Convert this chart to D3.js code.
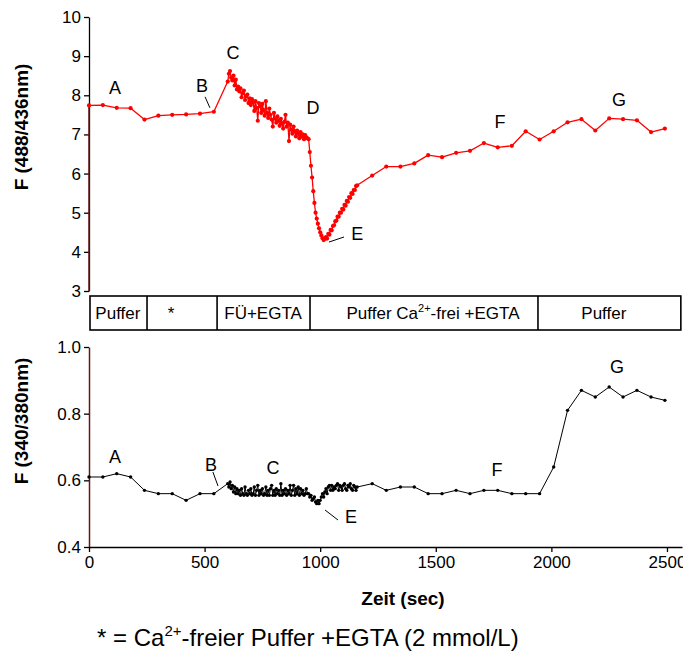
<!DOCTYPE html>
<html>
<head>
<meta charset="utf-8">
<script src="https://cdn.jsdelivr.net/npm/d3@7"></script>
<style>
  body { margin: 0; background: #fff; }
  svg { display: block; }
  text { font-family: "Liberation Sans", Arial, Helvetica, sans-serif; fill: #000; }
</style>
</head>
<body>
<svg id="chart" width="683" height="657"></svg>
<script>
// ---- Data -------------------------------------------------------------
// Slow sampling before and after the fast recording (time in s)
const timesPre  = [0, 60, 120, 180, 240, 300, 360, 420, 480, 540];
const timesPost = [1225, 1286, 1347, 1407, 1467, 1527, 1588, 1648, 1708, 1768, 1829,
                   1889, 1949, 2010, 2070, 2130, 2190, 2250, 2310, 2370, 2431, 2491];

// Fast recording: one sample every 5 s from 600 s to 1160 s
const fastStart = 600;
const fastStep = 5;

// F (488/436 nm)
const ratio488Pre  = [7.74, 7.75, 7.68, 7.67, 7.38, 7.48, 7.50, 7.51, 7.53, 7.58];
const ratio488Fast = [
  8.35, 8.55, 8.62, 8.45, 8.38, 8.50, 8.25, 8.40, 8.15, 8.22,
  8.10, 8.18, 7.95, 8.05, 8.12, 7.88, 7.98, 8.02, 7.80, 7.92,
  7.75, 7.90, 7.82, 7.60, 7.85, 7.68, 7.35, 7.80, 7.72, 7.55,
  7.78, 7.62, 7.48, 7.85, 7.55, 7.42, 7.66, 7.50, 7.38, 7.20,
  7.55, 7.40, 7.30, 7.46, 7.35, 7.22, 7.40, 7.28, 7.15, 7.32,
  7.50, 7.20, 7.30, 6.83, 7.25, 7.12, 7.02, 7.20, 7.08, 6.95,
  7.10, 7.02, 6.90, 7.06, 6.95, 7.00, 6.88, 6.98, 6.92, 6.90,
  6.88, 6.55, 6.20, 5.90, 5.55, 5.25, 5.00, 4.85, 4.72, 4.60,
  4.50, 4.42, 4.35, 4.30, 4.33, 4.38, 4.34, 4.46, 4.44, 4.56,
  4.55, 4.66, 4.68, 4.78, 4.80, 4.90, 4.90, 5.00, 5.00, 5.10,
  5.08, 5.20, 5.18, 5.30, 5.28, 5.40, 5.38, 5.50, 5.48, 5.58,
  5.58, 5.68, 5.70
];
const ratio488Post = [5.95, 6.18, 6.18, 6.26, 6.47, 6.42, 6.53, 6.58, 6.78, 6.67, 6.71,
                      7.08, 6.87, 7.08, 7.31, 7.39, 7.10, 7.41, 7.39, 7.36, 7.06, 7.15];

// F (340/380 nm)
const ratio340Pre  = [0.61, 0.61, 0.62, 0.61, 0.57, 0.56, 0.56, 0.54, 0.56, 0.56];
const ratio340Fast = [
  0.59, 0.58, 0.595, 0.575, 0.585, 0.565, 0.58, 0.56, 0.575, 0.56,
  0.57, 0.555, 0.575, 0.56, 0.555, 0.58, 0.56, 0.555, 0.57, 0.56,
  0.575, 0.555, 0.56, 0.58, 0.555, 0.57, 0.585, 0.555, 0.57, 0.56,
  0.575, 0.555, 0.56, 0.58, 0.555, 0.57, 0.555, 0.575, 0.585, 0.555,
  0.57, 0.555, 0.575, 0.56, 0.57, 0.555, 0.59, 0.555, 0.57, 0.56,
  0.575, 0.555, 0.57, 0.56, 0.585, 0.555, 0.57, 0.585, 0.555, 0.575,
  0.56, 0.58, 0.555, 0.575, 0.56, 0.57, 0.555, 0.56, 0.575, 0.56,
  0.56, 0.55, 0.555, 0.54, 0.545, 0.55, 0.535, 0.53, 0.54, 0.53,
  0.54, 0.55, 0.56, 0.55, 0.565, 0.575, 0.56, 0.58, 0.585, 0.57,
  0.585, 0.57, 0.58, 0.575, 0.585, 0.59, 0.57, 0.585, 0.58, 0.57,
  0.585, 0.59, 0.575, 0.57, 0.585, 0.58, 0.59, 0.575, 0.57, 0.585,
  0.58, 0.57, 0.58
];
const ratio340Post = [0.59, 0.57, 0.58, 0.58, 0.56, 0.56, 0.57, 0.56, 0.57, 0.57, 0.56,
                      0.56, 0.56, 0.64, 0.81, 0.87, 0.85, 0.88, 0.85, 0.87, 0.85, 0.84];

// Axis ticks
const ticks488 = [3, 4, 5, 6, 7, 8, 9, 10];
const ticks340 = [0.4, 0.6, 0.8, 1.0];
const timeTicks = [0, 500, 1000, 1500, 2000, 2500];

// Perfusion protocol: boundaries (s) and the solution applied in between
const protocolBounds = [0, 251, 554, 956, 1942, 2560];
const protocolNames  = ["Puffer", "*", "FÜ+EGTA", "Puffer Ca|2+|-frei +EGTA", "Puffer"];
const protocolLabelAt = [125, 355, 753, 1488, 2227];

// Phase markers (time, value) and optional leader lines
const phases488 = [
  { k: "A", t: 112, v: 8.19 }, { k: "B", t: 489, v: 8.24 }, { k: "C", t: 623, v: 9.08 },
  { k: "D", t: 969, v: 7.68 }, { k: "E", t: 1160, v: 4.46 }, { k: "F", t: 1778, v: 7.34 },
  { k: "G", t: 2292, v: 7.88 }
];
const leaders488 = [ { t0: 502, v0: 7.96, t1: 523, v1: 7.68 }, { t0: 1038, v0: 4.25, t1: 1103, v1: 4.38 } ];
const phases340 = [
  { k: "A", t: 112, v: 0.67 }, { k: "B", t: 528, v: 0.646 }, { k: "C", t: 796, v: 0.637 },
  { k: "E", t: 1133, v: 0.49 }, { k: "F", t: 1765, v: 0.631 }, { k: "G", t: 2284, v: 0.94 }
];
const leaders340 = [ { t0: 536, v0: 0.625, t1: 558, v1: 0.583 }, { t0: 1021, v0: 0.511, t1: 1077, v1: 0.481 } ];

// ---- Assemble series --------------------------------------------------
function buildSeries(pre, fast, post) {
  const rows = [];
  timesPre.forEach((t, i) => rows.push({ t, v: pre[i] }));
  fast.forEach((v, i) => rows.push({ t: fastStart + i * fastStep, v }));
  timesPost.forEach((t, i) => rows.push({ t, v: post[i] }));
  return rows;
}
const series488 = buildSeries(ratio488Pre, ratio488Fast, ratio488Post);
const series340 = buildSeries(ratio340Pre, ratio340Fast, ratio340Post);

// ---- Scales -----------------------------------------------------------
const svg = d3.select("#chart");
const x = d3.scaleLinear().domain([0, 2565]).range([89, 682]);
const yTop = d3.scaleLinear().domain([3, 10]).range([291, 17]);
const yBot = d3.scaleLinear().domain([0.4, 1.0]).range([547, 347]);

const tickFont = 17;

// ---- Upper panel: F (488/436nm) ---------------------------------------
const gTopAxis = svg.append("g")
  .attr("transform", `translate(${x(0)},0)`)
  .call(d3.axisLeft(yTop).tickValues(ticks488).tickFormat(d3.format("d"))
    .tickSize(5).tickSizeOuter(0).tickPadding(3));
gTopAxis.selectAll("text").style("font-size", tickFont + "px");
gTopAxis.select(".domain").attr("stroke", "#000").attr("stroke-width", 1.3);
gTopAxis.selectAll(".tick line").attr("stroke-width", 1.3);

// the trace runs down along the axis from its first sample
svg.append("line")
  .attr("x1", x(0)).attr("x2", x(0))
  .attr("y1", yTop(ratio488Pre[0])).attr("y2", yTop(3))
  .attr("stroke", "#6a1414").attr("stroke-width", 1.5);

function drawTrace(data, y, color, r, width) {
  const line = d3.line().x(d => x(d.t)).y(d => y(d.v));
  svg.append("path").datum(data)
    .attr("d", line).attr("fill", "none")
    .attr("stroke", color).attr("stroke-width", width).attr("stroke-linejoin", "round");
  svg.append("g").selectAll("circle").data(data).join("circle")
    .attr("cx", d => x(d.t)).attr("cy", d => y(d.v)).attr("r", r).attr("fill", color);
}
drawTrace(series488, yTop, "#ff0000", 2.1, 1.3);

function drawPhases(list, leaders, y) {
  svg.append("g").selectAll("text").data(list).join("text")
    .attr("x", d => x(d.t)).attr("y", d => y(d.v))
    .attr("text-anchor", "middle").attr("dy", "0.36em")
    .style("font-size", "18px").text(d => d.k);
  svg.append("g").selectAll("line").data(leaders).join("line")
    .attr("x1", d => x(d.t0)).attr("y1", d => y(d.v0))
    .attr("x2", d => x(d.t1)).attr("y2", d => y(d.v1))
    .attr("stroke", "#000").attr("stroke-width", 1);
}
drawPhases(phases488, leaders488, yTop);

svg.append("text")
  .attr("transform", "translate(28,127) rotate(-90)")
  .attr("text-anchor", "middle")
  .style("font-size", "19px").style("font-weight", "bold")
  .text("F (488/436nm)");

// ---- Protocol bar -------------------------------------------------------
const barTop = 296, barBottom = 330;
const gBar = svg.append("g");
gBar.append("rect")
  .attr("x", x(protocolBounds[0]) + 1).attr("y", barTop)
  .attr("width", x(protocolBounds[protocolBounds.length - 1]) - x(protocolBounds[0]) - 1)
  .attr("height", barBottom - barTop)
  .attr("fill", "none").attr("stroke", "#000").attr("stroke-width", 1.6);
gBar.selectAll("line.div").data(protocolBounds.slice(1, -1)).join("line")
  .attr("class", "div")
  .attr("x1", d => x(d)).attr("x2", d => x(d))
  .attr("y1", barTop).attr("y2", barBottom)
  .attr("stroke", "#000").attr("stroke-width", 1.6);
protocolNames.forEach((name, i) => {
  const parts = name.split("|");
  const t = gBar.append("text")
    .attr("x", x(protocolLabelAt[i])).attr("y", 319)
    .attr("text-anchor", "middle").style("font-size", "17px");
  if (parts.length === 1) {
    t.text(name);
  } else {
    t.append("tspan").text(parts[0]);
    t.append("tspan").attr("dy", -7).style("font-size", "11px").text(parts[1]);
    t.append("tspan").attr("dy", 7).text(parts[2]);
  }
});

// ---- Lower panel: F (340/380nm) ---------------------------------------
const gBotY = svg.append("g")
  .attr("transform", `translate(${x(0)},0)`)
  .call(d3.axisLeft(yBot).tickValues(ticks340).tickFormat(d3.format(".1f"))
    .tickSize(5).tickSizeOuter(0).tickPadding(3));
gBotY.selectAll("text").style("font-size", tickFont + "px");
gBotY.select(".domain").attr("stroke", "#6a1414").attr("stroke-width", 1.5);
gBotY.selectAll(".tick line").attr("stroke-width", 1.3);

const gBotX = svg.append("g")
  .attr("transform", `translate(0,${yBot(0.4)})`)
  .call(d3.axisBottom(x).tickValues(timeTicks).tickFormat(d3.format("d"))
    .tickSize(5).tickSizeOuter(0).tickPadding(4));
gBotX.selectAll("text").style("font-size", tickFont + "px");
gBotX.select(".domain").attr("stroke-width", 1.3);
gBotX.selectAll(".tick line").attr("stroke-width", 1.3);

drawTrace(series340, yBot, "#000", 1.7, 1);
drawPhases(phases340, leaders340, yBot);

svg.append("text")
  .attr("transform", "translate(28,421) rotate(-90)")
  .attr("text-anchor", "middle")
  .style("font-size", "19px").style("font-weight", "bold")
  .text("F (340/380nm)");

svg.append("text")
  .attr("x", 403).attr("y", 605)
  .attr("text-anchor", "middle")
  .style("font-size", "19px").style("font-weight", "bold")
  .text("Zeit (sec)");

// ---- Footnote -----------------------------------------------------------
const foot = svg.append("text").attr("x", 97).attr("y", 646).style("font-size", "24px");
foot.append("tspan").text("* = Ca");
foot.append("tspan").attr("dy", -10).style("font-size", "15px").text("2+");
foot.append("tspan").attr("dy", 10).text("-freier Puffer +EGTA (2 mmol/L)");
</script>
</body>
</html>
